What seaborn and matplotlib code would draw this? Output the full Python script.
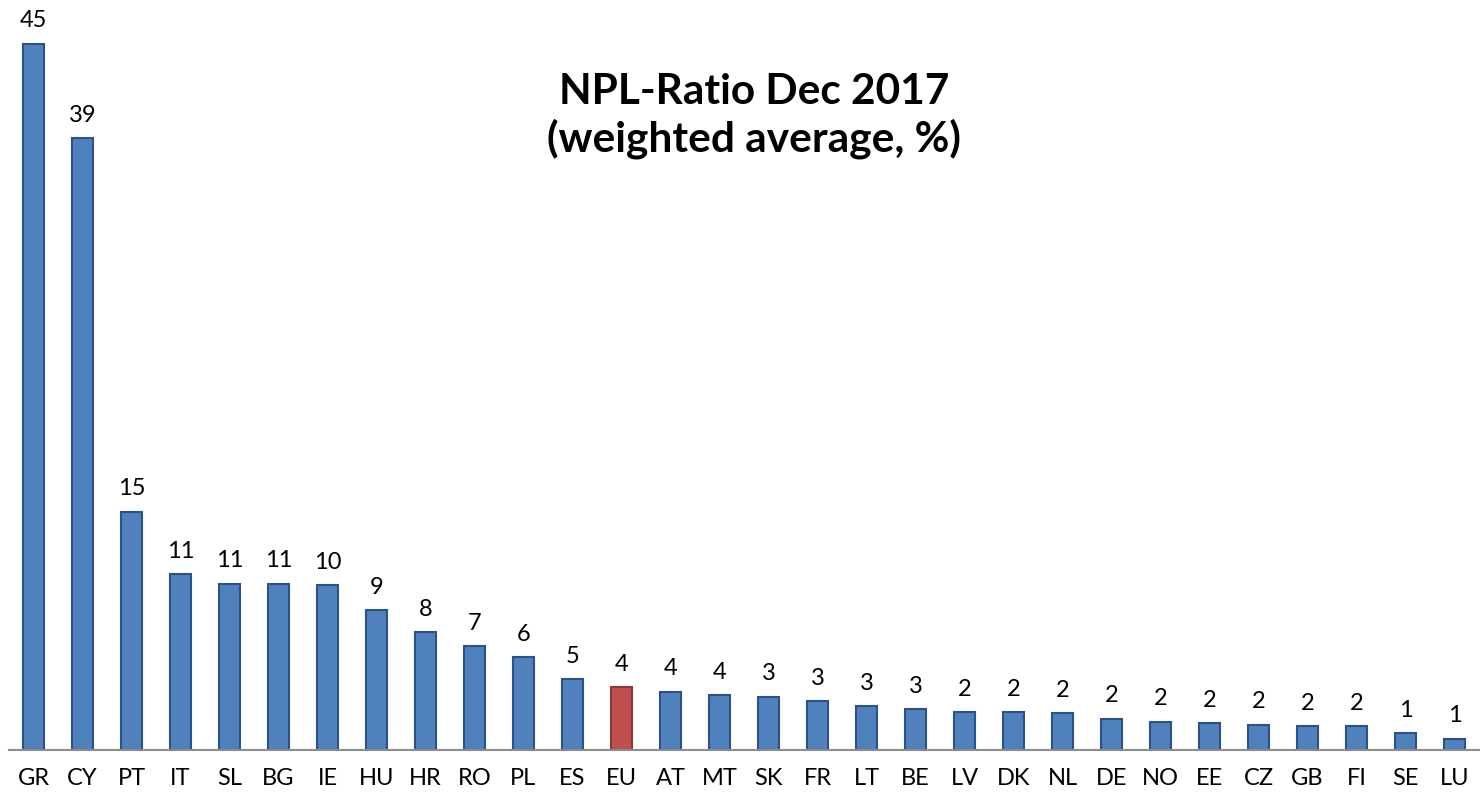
import matplotlib
matplotlib.use("Agg")
import matplotlib.pyplot as plt
import seaborn as sns
import numpy as np

countries = ["GR", "CY", "PT", "IT", "SL", "BG", "IE", "HU", "HR", "RO", "PL", "ES", "EU",
             "AT", "MT", "SK", "FR", "LT", "BE", "LV", "DK", "NL", "DE", "NO", "EE", "CZ",
             "GB", "FI", "SE", "LU"]
values = [45.0, 39.0, 15.2, 11.2, 10.6, 10.6, 10.5, 8.9, 7.5, 6.6, 5.9, 4.5, 4.0,
          3.7, 3.5, 3.4, 3.1, 2.8, 2.6, 2.4, 2.4, 2.35, 2.0, 1.8, 1.7, 1.6,
          1.5, 1.5, 1.07, 0.72]
labels = ["45", "39", "15", "11", "11", "11", "10", "9", "8", "7", "6", "5", "4",
          "4", "4", "3", "3", "3", "3", "2", "2", "2", "2", "2", "2", "2",
          "2", "2", "1", "1"]
highlight = "EU"
title = "NPL-Ratio Dec 2017\n(weighted average, %)"

sns.set_style("white")
plt.rcParams["font.family"] = ["Lato", "DejaVu Sans"]

W, H = 1480, 796
fig = plt.figure(figsize=(W / 100, H / 100), dpi=100)
ax = fig.add_axes([9 / W, 46 / H, 1470 / W, 750 / H])

blue, blue_edge = "#4F81BD", "#2C5286"
red, red_edge = "#C0504D", "#8C3836"
colors = [red if c == highlight else blue for c in countries]
edges = [red_edge if c == highlight else blue_edge for c in countries]

sns.barplot(x=countries, y=values, hue=countries, palette=colors, legend=False,
            saturation=1, width=0.43, ax=ax, linewidth=1.5, edgecolor=blue_edge)
for patch, ec in zip(ax.patches, edges):
    patch.set_edgecolor(ec)

for i, patch in enumerate(ax.patches):
    x = patch.get_x() + patch.get_width() / 2
    h = patch.get_height()
    ax.annotate(labels[i], (x, h), xytext=(0, 9), textcoords="offset points",
                ha="center", va="bottom", fontsize=17, color="black")

ax.set_xlim(-0.5, len(countries) - 0.5)
ax.set_ylim(0, 750 / 15.69)

ax.set_xticks(range(len(countries)))
ax.set_xticklabels(countries, fontsize=17, color="black")
ax.tick_params(axis="x", which="major", length=0, pad=13)
ax.set_xticks(np.arange(-0.5, len(countries), 1.0), minor=True)
ax.tick_params(axis="x", which="minor", length=8, width=1.5, color="#8C8C8C", direction="out")
ax.set_yticks([])
ax.set_xlabel("")
ax.set_ylabel("")

for s in ["left", "top", "right"]:
    ax.spines[s].set_visible(False)
ax.spines["bottom"].set_color("#8C8C8C")
ax.spines["bottom"].set_linewidth(1.5)

fig.text(754 / W, 1 - 116 / H, title, ha="center", va="center",
         fontsize=30.5, fontweight="bold", color="black", linespacing=1.2)

fig.savefig("out.png", dpi=100)
